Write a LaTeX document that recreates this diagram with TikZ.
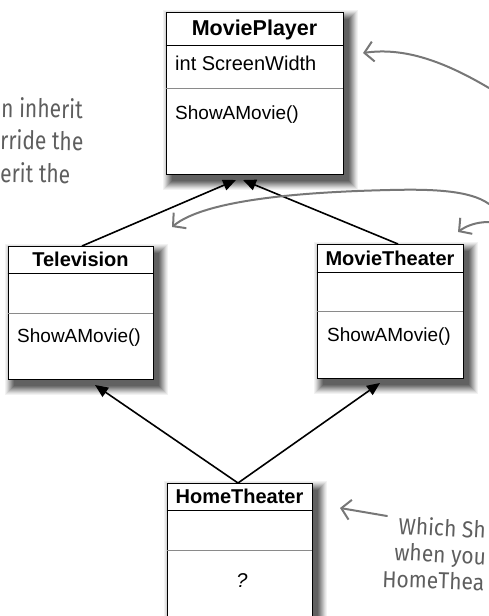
\documentclass[tikz,border=0pt]{standalone}
\usepackage{fontspec}
\setmainfont{Liberation Sans}
\newfontfamily\handfont{Fira Sans}
\usetikzlibrary{arrows.meta,backgrounds}
\definecolor{notegray}{HTML}{5E5E5E}
\definecolor{arrowgray}{HTML}{777777}
\definecolor{sepgray}{HTML}{8A8A8A}
\tikzset{
  classbox/.style={draw=black, line width=0.9pt, fill=white, inner sep=0pt},
  titlesep/.style={draw=black, line width=0.8pt},
  attrsep/.style={draw=sepgray, line width=0.8pt},
  classtitle/.style={inner sep=0pt, font=\fontsize{20}{22}\selectfont\bfseries},
  member/.style={inner sep=0pt, anchor=west, font=\fontsize{19}{22}\selectfont},
  inherit/.style={draw=black, line width=1.6pt, -{Triangle[length=13pt,width=11pt]}},
  notearrow/.style={draw=arrowgray, line width=2pt, line cap=round,
    -{Straight Barb[length=9pt,width=20pt,line width=2pt]}},
  handnote/.style={inner sep=0pt, anchor=base west, text=notegray,
    font=\handfont\fontsize{21}{24}\selectfont}
}
\newcommand\handtext[1]{\scalebox{1}[1.22]{#1}}
\newcommand\handtextsm[1]{\scalebox{1}[1.1]{#1}}
\newcommand\softshadow[1]{%
  \foreach \r/\c in {9/5,8/10,7/16,6/23,5/30,4/37,3/44,2/51,1/57,0/62}{%
    \fill[black!\c] ([xshift={(6-\r)*1pt}, yshift={(-7+\r)*1pt}]#1.north west)
      rectangle ([xshift={(6+\r)*1pt}, yshift={(-7-\r)*1pt}]#1.south east);
  }}
\begin{document}
\begin{tikzpicture}[x=1pt,y=-1pt]
\useasboundingbox (0,0) rectangle (488,616);

% MoviePlayer
\node[classbox, minimum width=177pt, minimum height=162pt] (mp) at (254.5,93) {};
\draw[titlesep] (mp.west |- 0,45) -- (mp.east |- 0,45);
\draw[attrsep] (mp.west |- 0,88) -- (mp.east |- 0,88);
\node[classtitle, font=\fontsize{21.5}{24}\selectfont\bfseries] (mpt) at (254.5,30) {MoviePlayer};
\node[member, font=\fontsize{20}{22}\selectfont] (mpa) at (175,63) {int ScreenWidth};
\node[member] (mpm) at (175,115) {ShowAMovie()};

% Television
\node[classbox, minimum width=145pt, minimum height=133pt] (tv) at (80.5,312.5) {};
\draw[titlesep] (tv.west |- 0,273) -- (tv.east |- 0,273);
\draw[attrsep] (tv.west |- 0,313) -- (tv.east |- 0,313);
\node[classtitle] (tvt) at (80.5,259) {Television};
\node[member] (tvm) at (17,338) {ShowAMovie()};

% MovieTheater
\node[classbox, minimum width=146pt, minimum height=134pt] (mt) at (390,311) {};
\draw[titlesep] (mt.west |- 0,272) -- (mt.east |- 0,272);
\draw[attrsep] (mt.west |- 0,311) -- (mt.east |- 0,311);
\node[classtitle] (mtt) at (390,258) {MovieTheater};
\node[member] (mtm) at (327,337) {ShowAMovie()};

% HomeTheater
\node[classbox, minimum width=145pt, minimum height=157pt] (ht) at (239.5,561.5) {};
\draw[titlesep] (ht.west |- 0,510) -- (ht.east |- 0,510);
\draw[attrsep] (ht.west |- 0,550) -- (ht.east |- 0,550);
\node[classtitle] (htt) at (239.5,496) {HomeTheater};
\node[inner sep=0pt, font=\fontsize{20}{22}\selectfont\itshape] (htm) at (242,581) {?};

% shadows
\begin{scope}[on background layer]
  \softshadow{mp}
  \softshadow{tv}
  \softshadow{mt}
  \softshadow{ht}
\end{scope}

% inheritance connectors
\coordinate (mpl) at (236,180);
\coordinate (mpr) at (243,180);
\coordinate (tvb) at (95,385);
\coordinate (mtb) at (380,383);
\coordinate (tvtop) at (82,246);
\coordinate (mttop) at (398,244);
\coordinate (httop) at (238,483);
\draw[inherit] (tvtop) -- (mpl);
\draw[inherit] (mttop) -- (mpr);
\draw[inherit] (httop) -- (tvb);
\draw[inherit] (httop) -- (mtb);

% annotation arrows
\coordinate (n1s) at (489,88);
\coordinate (n1e) at (363,53);
\draw[notearrow] (n1s) .. controls (445,62) and (405,47) .. (n1e);
\coordinate (n2s) at (489,204);
\coordinate (n2m) at (390,190);
\coordinate (n2e) at (172,227);
\draw[notearrow] (n2s) .. controls (470,190) and (430,189) .. (n2m)
  .. controls (300,192) and (205,200) .. (n2e);
\coordinate (n3s) at (489,222);
\coordinate (n3e) at (458,232);
\draw[notearrow] (n3s) .. controls (476,222) and (466,226) .. (n3e);
\coordinate (n4s) at (387,516);
\coordinate (n4e) at (340,508);
\draw[notearrow] (n4s) -- (n4e);

% handwritten notes
\node[handnote, rotate=-1] (l1) at (1,117) {\handtext{n inherit}};
\node[handnote, rotate=-1] (l2) at (0,149) {\handtext{rride the}};
\node[handnote, rotate=-1] (l3) at (0,182) {\handtext{erit the}};
\node[handnote, rotate=-3] (r1) at (398,534) {\handtextsm{Which Sh}};
\node[handnote, rotate=-3] (r2) at (394,560) {\handtextsm{when you}};
\node[handnote, rotate=-2] (r3) at (382,587) {\handtextsm{HomeThea}};
\end{tikzpicture}
\end{document}
